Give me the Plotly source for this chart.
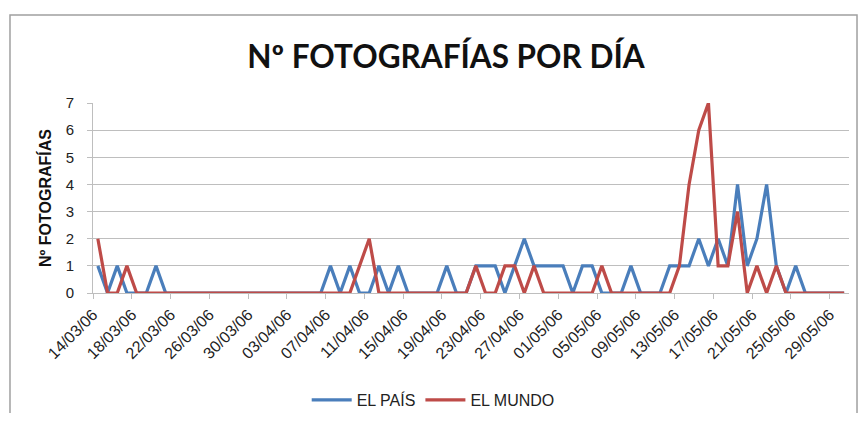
import pandas as pd
import plotly.graph_objects as go

# one value per day, 14/03/06 .. 30/05/06
START_DATE = "2006-03-14"
EL_PAIS = [1, 0, 1, 0, 0, 0, 1, 0, 0, 0, 0, 0, 0, 0, 0, 0, 0, 0, 0, 0,
           0, 0, 0, 0, 1, 0, 1, 0, 0, 1, 0, 1, 0, 0, 0, 0, 1, 0, 0, 1,
           1, 1, 0, 1, 2, 1, 1, 1, 1, 0, 1, 1, 0, 0, 0, 1, 0, 0, 0, 1,
           1, 1, 2, 1, 2, 1, 4, 1, 2, 4, 1, 0, 1, 0, 0, 0, 0, 0]
EL_MUNDO = [2, 0, 0, 1, 0, 0, 0, 0, 0, 0, 0, 0, 0, 0, 0, 0, 0, 0, 0, 0,
            0, 0, 0, 0, 0, 0, 0, 1, 2, 0, 0, 0, 0, 0, 0, 0, 0, 0, 0, 1,
            0, 0, 1, 1, 0, 1, 0, 0, 0, 0, 0, 0, 1, 0, 0, 0, 0, 0, 0, 0,
            1, 4, 6, 7, 1, 1, 3, 0, 1, 0, 1, 0, 0, 0, 0, 0, 0, 0]
SERIES_NAMES = ["EL PAÍS", "EL MUNDO"]
COLORS = ["#4A7EBB", "#BE4B48"]

days = pd.date_range(START_DATE, periods=len(EL_PAIS), freq="D")
# Excel draws each point in the middle of its day slot
x_mid = days + pd.Timedelta(hours=12)
x_start = days[0]
x_end = days[-1] + pd.Timedelta(days=1)

fig = go.Figure()
for name, values, color in zip(SERIES_NAMES, [EL_PAIS, EL_MUNDO], COLORS):
    fig.add_trace(go.Scatter(x=x_mid, y=values, mode="lines", name=name,
                             line=dict(color=color, width=3.2)))

grid = "#BEBEBE"
# the page body keeps its 8px margin on every side, so the figure is 16px smaller
fig.update_layout(
    width=852, height=405,
    margin=dict(l=85, r=11, t=95, b=120, autoexpand=False),
    paper_bgcolor="white", plot_bgcolor="white",
    font=dict(family="Liberation Sans, Arial, sans-serif", size=12, color="#222"),
    title=dict(text="<b>Nº FOTOGRAFÍAS POR DÍA</b>", x=0.514, xanchor="center",
               y=0.879, yanchor="middle",
               font=dict(family="Lato, Open Sans, sans-serif", size=31.5, color="#111")),
    showlegend=True,
    legend=dict(orientation="h", x=0.45, xanchor="center", y=-0.563, yanchor="middle",
                font=dict(size=16, color="#222"), itemwidth=40,
                bgcolor="rgba(0,0,0,0)"),
    xaxis=dict(type="date", range=[x_start, x_end], tick0=x_start,
               dtick=4 * 86400000, tickformat="%d/%m/%y", tickangle=-45,
               showgrid=False, showline=True, linecolor=grid, linewidth=1,
               ticks="outside", ticklen=5, tickcolor=grid, automargin=False,
               tickfont=dict(size=16, color="#222")),
    yaxis=dict(range=[0, 7], dtick=1, showgrid=True, gridcolor=grid, gridwidth=1,
               showline=True, linecolor=grid, linewidth=1, zeroline=False,
               ticks="outside", ticklen=5, tickcolor=grid, automargin=False,
               ticklabelstandoff=10,
               tickfont=dict(size=15, color="#222"),
               title=dict(text="<b>Nº FOTOGRAFÍAS</b>", standoff=10,
                          font=dict(size=16, color="#111"))),
    shapes=[dict(type="rect", xref="paper", yref="paper",
                 x0=-0.1098, x1=1.0106, y0=-0.72, y1=1.463,
                 line=dict(color="#A0A0A0", width=1.5), fillcolor="rgba(0,0,0,0)",
                 layer="below")],
)

fig.write_html("out.html")
